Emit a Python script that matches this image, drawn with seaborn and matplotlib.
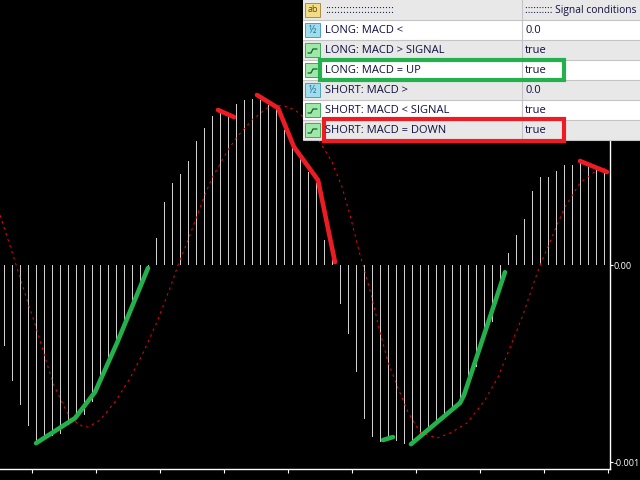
import numpy as np
import pandas as pd
import matplotlib
matplotlib.use('Agg')
import matplotlib.pyplot as plt
from matplotlib.patches import Rectangle
import seaborn as sns

# MACD values are in units of 1e-5, x is the bar number
macd_hist = [
    -41.1, -58.9, -71.1, -81.7, -90.4, -88.8, -86.8, -85.8, -81.2, -77.7,
    -76.1, -69.5, -57.4, -48.2, -40.6, -28.9, -20.3, -11.7, -1.5,
    13.7, 32.0, 41.6, 46.2, 52.8, 62.9, 69.5, 75.6, 77.2, 75.1, 81.7, 83.8,
    84.3, 83.8, 81.2, 80.2, 68.5, 59.9, 54.8, 47.2, 41.6, 12.7, 2.5,
    -19.8, -35.0, -54.3, -78.2, -87.3, -89.8, -88.8, -89.3, -90.9, -90.4,
    -86.3, -82.7, -80.2, -77.2, -72.6, -70.0, -60.9, -51.8, -35.5, -28.9, -10.2,
    6.1, 15.2, 23.3, 37.6, 44.7, 44.7, 47.7, 50.8, 50.8, 51.8, 49.7, 49.2, 47.2,
]

signal_x = [
    -0.56, 1.06, 2.94, 3.94, 5.06, 6.06, 6.94, 8.19, 9.69, 10.44, 11.94, 13.81,
    15.69, 17.31, 19.06, 20.69, 21.69, 22.94, 24.94, 25.94, 27.94, 29.06, 30.94,
    32.81, 34.69, 36.31, 37.81, 39.81, 40.94, 42.19, 43.19, 44.44, 44.94, 45.94,
    46.94, 47.94, 49.19, 50.44, 51.94, 54.06, 55.69, 57.81, 60.06, 61.69, 63.56,
    64.81, 66.06, 66.81, 69.06, 70.06, 71.94, 74.06, 75.06,
]
signal_y = [
    25.4, 5.1, -19.3, -31.5, -46.7, -59.9, -67.5, -77.7, -81.7, -82.2, -78.7, -69.5,
    -57.4, -44.7, -28.9, -11.7, 0.0, 12.7, 34.5, 44.2, 58.4, 65.0, 73.6,
    79.7, 81.2, 78.7, 73.6, 59.9, 52.3, 39.6, 25.4, 5.1, -1.5, -16.8,
    -34.0, -49.2, -62.4, -74.6, -84.8, -87.8, -85.3, -80.2, -68.5, -56.9, -38.1,
    -25.4, -10.2, -1.5, 20.3, 29.4, 41.6, 48.2, 49.2,
]

up_segments = [
    ([3.94, 8.81, 11.31, 14.06, 17.94], [-90.4, -77.7, -64.5, -39.6, -1.5]),
    ([47.31, 48.56], [-88.8, -87.3]),
    ([50.81, 56.94, 57.44, 62.56], [-90.9, -70.0, -66.0, -3.6]),
]
down_segments = [
    ([26.69, 28.69], [78.7, 75.1]),
    ([31.56, 34.19, 36.19, 39.19, 41.31], [86.3, 79.7, 59.9, 43.1, 1.5]),
    ([71.94, 75.31], [52.8, 47.2]),
]

time_ticks = [3.44, 11.44, 19.44, 27.44, 35.44, 43.44, 51.44, 59.44, 67.44, 75.44]

param_names = [':::::::::::::::::::::::', 'LONG: MACD <', 'LONG: MACD > SIGNAL', 'LONG: MACD = UP',
               'SHORT: MACD >', 'SHORT: MACD < SIGNAL', 'SHORT: MACD = DOWN']
param_values = [':::::::::: Signal conditions', '0.0', 'true', 'true', '0.0', 'true', 'true']
param_icons = ['ab', 'num', 'bool', 'bool', 'num', 'bool', 'bool']

sns.set_theme(style='dark')
plt.rcParams['font.family'] = ['Open Sans', 'DejaVu Sans']

fig = plt.figure(figsize=(6.4, 4.8), dpi=100, facecolor='black')
ax = fig.add_axes([0, 11 / 480, 610 / 640, 469 / 480], facecolor='black')

hist_df = pd.DataFrame({'bar': np.arange(len(macd_hist)), 'macd': macd_hist})
sns.barplot(data=hist_df, x='bar', y='macd', native_scale=True, width=0.125,
            color='#d0d0d0', saturation=1, linewidth=0, edgecolor='none', ax=ax)
for bar in ax.patches:
    bar.set_antialiased(False)

sns.lineplot(x=signal_x, y=signal_y, color='#ff0000', linewidth=0.7,
             linestyle=(0, (2.5, 4)), sort=False, estimator=None, ax=ax)
for xs, ys in up_segments:
    sns.lineplot(x=xs, y=ys, color='#22b14c', linewidth=3.3, sort=False, estimator=None,
                 solid_capstyle='round', ax=ax)
for xs, ys in down_segments:
    sns.lineplot(x=xs, y=ys, color='#ed1c24', linewidth=3.3, sort=False, estimator=None,
                 solid_capstyle='round', ax=ax)

ax.set_xlim(-0.5625, 75.69)
ax.set_ylim(-103.5, 134.5)
ax.set_xlabel('')
ax.set_ylabel('')
ax.grid(False)
for side in ['top', 'left']:
    ax.spines[side].set_visible(False)
for side in ['right', 'bottom']:
    ax.spines[side].set_visible(True)
    ax.spines[side].set_color('white')
    ax.spines[side].set_linewidth(1.0)
ax.set_xticks(time_ticks)
ax.set_xticklabels([])
ax.yaxis.tick_right()
ax.set_yticks([0, -100])
ax.set_yticklabels(['0.00', '-0.001'])
ax.tick_params(axis='x', colors='white', length=3, width=0.8, bottom=True)
ax.tick_params(axis='y', colors='white', length=2, width=0.8, right=True, labelsize=6.6, pad=0.3)

# parameter table on top, in screen pixels
panel = fig.add_axes([0, 0, 1, 1], facecolor='none')
panel.set_xlim(0, 640)
panel.set_ylim(480, 0)
panel.axis('off')

row_h = 20
for i, (name, value, icon) in enumerate(zip(param_names, param_values, param_icons)):
    top = i * row_h
    bg = '#e8e8e8' if i % 2 == 0 else '#ffffff'
    panel.add_patch(Rectangle((303, top), 337, row_h, facecolor=bg, edgecolor='none'))
    panel.plot([303, 640], [top + row_h - 0.5] * 2, color='#c4c4c4', lw=0.8)
    if icon == 'ab':
        panel.add_patch(Rectangle((305, top + 3), 15, 14, facecolor='#f3dc86', edgecolor='#a89048', lw=0.7))
        panel.text(312.5, top + 10, 'ab', fontsize=6.5, ha='center', va='center', color='#5a4a10')
    elif icon == 'num':
        panel.add_patch(Rectangle((305, top + 3), 15, 14, facecolor='#9fdcec', edgecolor='#4aa0c0', lw=0.7))
        panel.text(312.5, top + 10, '½', fontsize=7, ha='center', va='center', color='#1a6a90')
    else:
        panel.add_patch(Rectangle((305, top + 3), 15, 14, facecolor='#9fe8a8', edgecolor='#40a860', lw=0.7))
        panel.plot([308, 311, 313, 317], [top + 13, top + 13, top + 9, top + 9], color='#106030', lw=0.9)
    panel.text(325, top + 10.7, name, fontsize=8, ha='left', va='center', color='#101040', zorder=6)
    panel.text(525, top + 10.7, value, fontsize=8 if i else 7.4, ha='left', va='center', color='#101040', zorder=6)
panel.plot([521.5, 521.5], [0, 140], color='#c4c4c4', lw=0.8)

panel.add_patch(Rectangle((320, 60), 244, 20, facecolor='none', edgecolor='#22b14c', lw=3, zorder=5))
panel.add_patch(Rectangle((323.5, 119), 240, 22, facecolor='none', edgecolor='#ed1c24', lw=3, zorder=5))

fig.savefig('out.png', dpi=100, facecolor='black')
